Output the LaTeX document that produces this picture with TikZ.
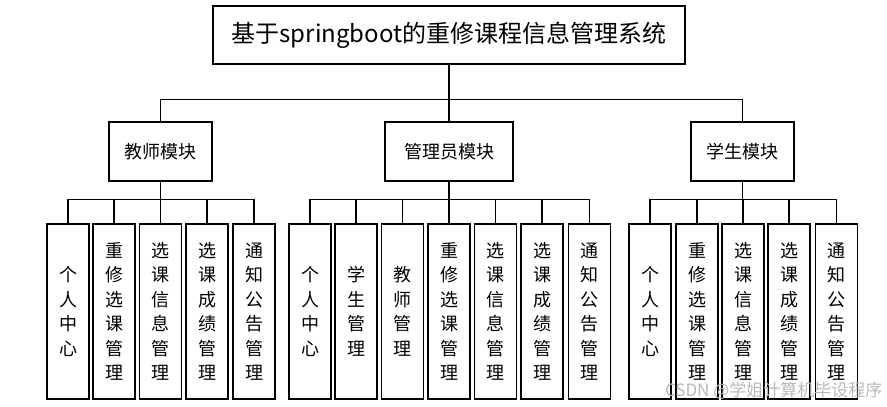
\documentclass[tikz,border=0pt]{standalone}
\usepackage{fontspec}
\setmainfont{Noto Sans CJK SC}
\begin{document}
\begin{tikzpicture}[x=1pt,y=-1pt,line width=1.2pt,
    box/.style={draw,rectangle,inner sep=0pt},
    leaf/.style={box,minimum width=42pt,minimum height=175pt,align=center,
        font=\fontsize{18}{24.5}\selectfont},
    module/.style={box,minimum width=103pt,minimum height=59pt,
        font=\fontsize{18}{22}\selectfont}]
    \useasboundingbox (0,0) rectangle (887,407);
    % top
    \node[box,minimum width=472pt,minimum height=58pt,
        font=\fontsize{24}{28}\selectfont] (root) at (449,35) {基于springboot的重修课程信息管理系统};
    \node[module] (teacher) at (160.5,151.5) {教师模块};
    \node[module,minimum width=128pt] (admin) at (449,151.5) {管理员模块};
    \node[module] (student) at (742.5,151.5) {学生模块};
    \foreach \m in {teacher,admin,student}
        \draw (\m.north) -- ++(0,-22) -| (root.south);
    % teacher
    \foreach \x/\txt [count=\i] in {68/{个\\人\\中\\心},114/{重\\修\\选\\课\\管\\理},
            160.5/{选\\课\\信\\息\\管\\理},207/{选\\课\\成\\绩\\管\\理},254/{通\\知\\公\\告\\管\\理}} {
        \node[leaf] (t\i) at (\x,311.5) {\txt};
        \draw (t\i.north) -- ++(0,-24) -| (teacher.south);
    }
    % admin
    \foreach \x/\txt [count=\i] in {310/{个\\人\\中\\心},356/{学\\生\\管\\理},402.5/{教\\师\\管\\理},
            449/{重\\修\\选\\课\\管\\理},495.5/{选\\课\\信\\息\\管\\理},542/{选\\课\\成\\绩\\管\\理},
            589.5/{通\\知\\公\\告\\管\\理}} {
        \node[leaf] (a\i) at (\x,311.5) {\txt};
        \draw (a\i.north) -- ++(0,-24) -| (admin.south);
    }
    % student
    \foreach \x/\txt [count=\i] in {650/{个\\人\\中\\心},697/{重\\修\\选\\课\\管\\理},
            743/{选\\课\\信\\息\\管\\理},789/{选\\课\\成\\绩\\管\\理},836.5/{通\\知\\公\\告\\管\\理}} {
        \node[leaf] (s\i) at (\x,311.5) {\txt};
        \draw (s\i.north) -- ++(0,-24) -| (student.south);
    }
    \node[text=gray!55,font=\fontsize{17}{20}\selectfont,inner sep=0pt,anchor=east] (mark) at (883,391) {CSDN @学姐计算机毕设程序};
\end{tikzpicture}
\end{document}
